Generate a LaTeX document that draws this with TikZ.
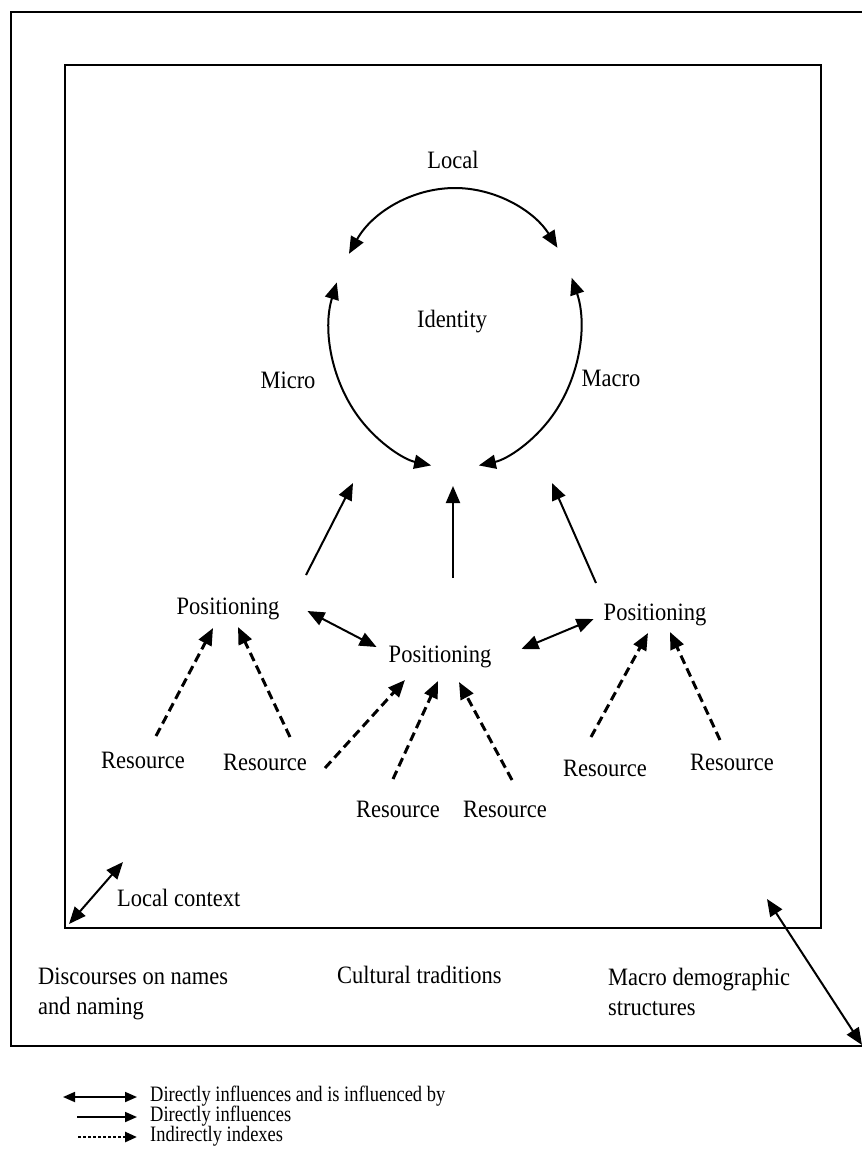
\documentclass[tikz,border=0pt]{standalone}
\usepackage{fontspec}
\setmainfont{Liberation Serif}
\newfontfamily\condfont[FakeStretch=0.9]{Liberation Serif}
\newfontfamily\legfont[FakeStretch=0.84]{Liberation Serif}
\usetikzlibrary{arrows.meta,calc}
\begin{document}
\begin{tikzpicture}[x=1pt,y=-1pt,
  lbl/.style={inner sep=0pt,font=\condfont\fontsize{25}{30}\selectfont},
  leg/.style={inner sep=0pt,anchor=west,text height=13pt,text depth=4pt,font=\legfont\fontsize{22}{24}\selectfont},
  tip/.style={-{Triangle[length=17pt,width=14pt]}},
  dtip/.style={{Triangle[length=17pt,width=14pt]}-{Triangle[length=17pt,width=14pt]}},
  ltip/.style={-{Triangle[length=12pt,width=10pt]}},
  ldtip/.style={{Triangle[length=12pt,width=10pt]}-{Triangle[length=12pt,width=10pt]}},
  solidln/.style={line width=2pt},
  dashln/.style={line width=3pt,dash pattern=on 9pt off 5pt},
  boxln/.style={line width=2pt}]
\useasboundingbox (0,0) rectangle (862,1176);
% boxes
\draw[boxln] (862,12) -- (11,12) -- (11,1046) -- (862,1046);
\draw[boxln] (65,65) rectangle (821,928);
% identity ellipse
\coordinate (c) at (455,328);
\node[lbl] (local) at (453,160) {Local};
\node[lbl] (identity) at (452,322) {Identity};
\node[lbl] (micro) at (288,380) {Micro};
\node[lbl] (macro) at (611,378) {Macro};
\draw[solidln,dtip] ($(c)+(-148:125 and 140)$) arc[start angle=-148,end angle=-35,x radius=125,y radius=140];
\draw[solidln,dtip] ($(c)+(-161:125 and 140)$) arc[start angle=-161,end angle=-259,x radius=125,y radius=140];
\draw[solidln,dtip] ($(c)+(-21:125 and 140)$) arc[start angle=-21,end angle=79,x radius=125,y radius=140];
% positionings
\node[lbl] (p1) at (228,609) {Positioning};
\node[lbl] (p2) at (440,657) {Positioning};
\node[lbl] (p3) at (655,615) {Positioning};
\coordinate (t1) at (353,483);
\coordinate (t2) at (453,486);
\coordinate (t3) at (552,483);
\draw[solidln,tip] ($(p1)+(78,-34)$) coordinate (s1) -- (t1);
\draw[solidln,tip] (453,578) coordinate (s2) -- (t2);
\draw[solidln,tip] ($(p3)+(-59,-32)$) coordinate (s3) -- (t3);
\draw[solidln,dtip] ($(p1.east)+(28,2)$) -- ($(p2.west)+(-12,-10)$);
\draw[solidln,dtip] ($(p2.east)+(30,-8)$) -- ($(p3.west)+(-10,4)$);
% resources
\node[lbl] (r1) at (143,760) {Resource};
\node[lbl] (r2) at (265,762) {Resource};
\node[lbl] (r3) at (398,809) {Resource};
\node[lbl] (r4) at (505,809) {Resource};
\node[lbl] (r5) at (605,768) {Resource};
\node[lbl] (r6) at (732,762) {Resource};
\draw[dashln,tip] (156,736) -- (213,628);
\draw[dashln,tip] (290,737) -- (238,627);
\draw[dashln,tip] (325,768) -- (405,680);
\draw[dashln,tip] (393,779) -- (438,681);
\draw[dashln,tip] (512,780) -- (459,682);
\draw[dashln,tip] (591,737) -- (648,633);
\draw[dashln,tip] (720,740) -- (670,632);
% context
\node[lbl,anchor=west] (lc) at (117,898) {Local context};
\draw[solidln,dtip] (69,924) -- (123,862);
\draw[solidln,dtip] (767,899) -- (862,1045);
\node[lbl,anchor=north west,align=left] (disc) at (38,968) {Discourses on names\\and naming};
\node[lbl,anchor=north west] (cult) at (337,966) {Cultural traditions};
\node[lbl,anchor=north west,align=left] (macrod) at (608,968) {Macro demographic\\structures};
% legend
\draw[line width=1.8pt,ldtip] (63,1097) -- (137,1097);
\node[leg] (l1) at (150,1097) {Directly influences and is influenced by};
\draw[line width=1.8pt,ltip] (77,1117) -- (137,1117);
\node[leg] (l2) at (150,1117) {Directly influences};
\draw[line width=2.6pt,dash pattern=on 3pt off 2pt,ltip] (78,1137) -- (137,1137);
\node[leg] (l3) at (150,1137) {Indirectly indexes};
\end{tikzpicture}
\end{document}
